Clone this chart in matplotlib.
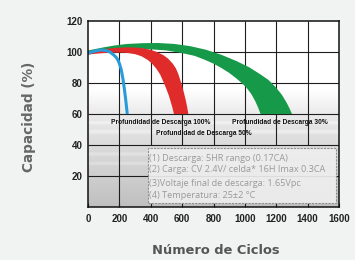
import numpy as np
import matplotlib
matplotlib.use("Agg")
import matplotlib.pyplot as plt
from matplotlib.patches import Rectangle

# capacity bands (cycles, %)
green_outer_x = [0, 50, 100, 175, 250, 350, 450, 550, 650, 750, 850, 950, 1030,
                 1100, 1150, 1195, 1235, 1265, 1285, 1300]
green_outer_y = [101, 102, 103, 104.3, 105.2, 105.7, 105.8, 105.2, 103.8, 101.5, 98.2,
                 94, 90, 85.5, 82, 77.5, 72.5, 67.5, 63.5, 60]
green_inner_x = [0, 100, 200, 300, 400, 500, 600, 680, 744, 800, 850, 900, 945, 980,
                 1010, 1040, 1065, 1085, 1100]
green_inner_y = [98.5, 100.5, 101.6, 101.8, 101.7, 101, 99.3, 97.5, 95, 92.5, 89.7,
                 86.5, 83, 80, 77, 73, 68.5, 64, 60]

red_outer_x = [0, 50, 100, 150, 200, 250, 300, 350, 400, 440, 480, 510, 540, 560,
               575, 588, 600, 612, 623, 632, 640]
red_outer_y = [100.4, 101.2, 101.9, 102.4, 102.8, 103, 102.9, 102.4, 101.4, 100, 98,
               95.8, 92.5, 89.5, 86, 82, 78, 73.5, 69, 64.5, 60]
red_inner_x = [0, 50, 100, 150, 200, 250, 300, 340, 382, 410, 435, 460, 484, 500,
               515, 527, 537, 548]
red_inner_y = [98.3, 98.9, 99.3, 99.6, 99.6, 99.4, 98.6, 97.3, 94.8, 92.3, 89.3, 85.5,
               80, 76, 72, 68, 64.5, 60]

blue_x = [0, 25, 50, 85, 115, 140, 165, 180, 191, 202, 212, 223, 232, 240, 246, 250]
blue_y = [99.2, 100, 100.8, 101.3, 101, 100, 98, 96.5, 94.8, 92, 88.5, 82.5, 76,
          69.5, 64, 60]

x_ticks = [0, 200, 400, 600, 800, 1000, 1200, 1400, 1600]
y_ticks = [20, 40, 60, 80, 100, 120]

dod_labels = ["Profundidad de Descarga 100%", "Profundidad de Descarga 50%",
              "Profundidad de Descarga 30%"]
dod_pos = [(466, 54.8), (740, 47.7), (1225, 54.8)]

notes = ["(1) Descarga: 5HR rango (0.17CA)",
         "(2) Carga: CV 2.4V/ celda* 16H Imax 0.3CA",
         "(3)Voltaje final de descarga: 1.65Vpc",
         "(4) Temperatura: 25±2 °C"]
note_y = [31.4, 23.9, 15.3, 7.7]

BG = "#f1f2f2"
fig = plt.figure(figsize=(3.55, 2.6), dpi=100, facecolor=BG)
ax = fig.add_axes([88 / 355, 53 / 260, 251 / 355, 186 / 260])
ax.set_facecolor("white")
ax.set_xlim(0, 1600)
ax.set_ylim(0, 120)

# grey gradient in the lower part of the plot
yy = np.linspace(0, 75, 300)
g = np.interp(yy, [0, 20, 40, 60, 75], [0.75, 0.81, 0.86, 0.92, 1.0])
stripes = ((yy > 27) & (yy < 29)) | ((yy > 33) & (yy < 35)) | ((yy > 47) & (yy < 49.5)) | ((yy > 53) & (yy < 55))
g = np.where(stripes, np.minimum(g + 0.04, 1.0), g)
img = np.zeros((len(yy), 1, 3))
img[:, 0, :] = g[:, None]
ax.imshow(img, extent=[0, 1600, 0, 75], origin="lower", aspect="auto",
          interpolation="bilinear", zorder=0)

gc = "#1e1e1e"
ax.vlines(x_ticks[1:-1], 60, 120, color=gc, lw=0.8, zorder=1)
ax.hlines([60, 80, 100], 0, 1600, color=gc, lw=0.8, zorder=1)
ax.hlines([20, 40], 0, 1600, color=gc, lw=0.8, zorder=1)
ax.vlines([200], 0, 60, color=gc, lw=0.8, zorder=1)
ax.vlines(x_ticks[2:-1], 40, 60, color=gc, lw=0.8, zorder=1)

ax.fill(green_outer_x + green_inner_x[::-1], green_outer_y + green_inner_y[::-1],
        color="#17994a", lw=0, zorder=2)
ax.fill(red_outer_x + red_inner_x[::-1], red_outer_y + red_inner_y[::-1],
        color="#e02b2b", lw=0, zorder=3)
ax.plot(blue_x, blue_y, color="#2a9bd9", lw=2.2, zorder=4, solid_capstyle="butt")

for lab, (px, py) in zip(dod_labels, dod_pos):
    ax.text(px, py, lab, ha="center", va="center", fontsize=4.8,
            fontweight="bold", family="Liberation Sans", color="#111", zorder=5)

ax.add_patch(Rectangle((380, 2.6), 1200, 35.7, facecolor="#eeeeee", alpha=0.92,
                       edgecolor="#8a8a8a", lw=0.8, ls=(0, (2, 1)), zorder=6))
for t, ty in zip(notes, note_y):
    ax.text(392, ty, t, ha="left", va="center", fontsize=6.6,
            family="Open Sans", color="#9a9a9a", zorder=7)

ax.set_xticks(x_ticks)
ax.set_yticks(y_ticks)
ax.tick_params(axis="x", direction="in", length=3, width=0.8, color=gc, pad=5,
               labelsize=7, labelcolor="#222")
ax.tick_params(axis="y", length=0, pad=4, labelsize=7, labelcolor="#222")
for lab in ax.get_xticklabels() + ax.get_yticklabels():
    lab.set_fontweight("bold")
    lab.set_family("Liberation Sans")
for s in ax.spines.values():
    s.set_color("#111")
    s.set_linewidth(1.1)
    s.set_zorder(8)

fig.text(216 / 355, 1 - 250 / 260, "Número de Ciclos", ha="center", va="center",
         fontsize=9.4, fontweight="bold", color="#555")
fig.text(29 / 355, 1 - 117 / 260, "Capacidad (%)", ha="center", va="center",
         rotation=90, fontsize=9.8, fontweight="bold", color="#666")

fig.savefig("out.png", dpi=100, facecolor=BG)
